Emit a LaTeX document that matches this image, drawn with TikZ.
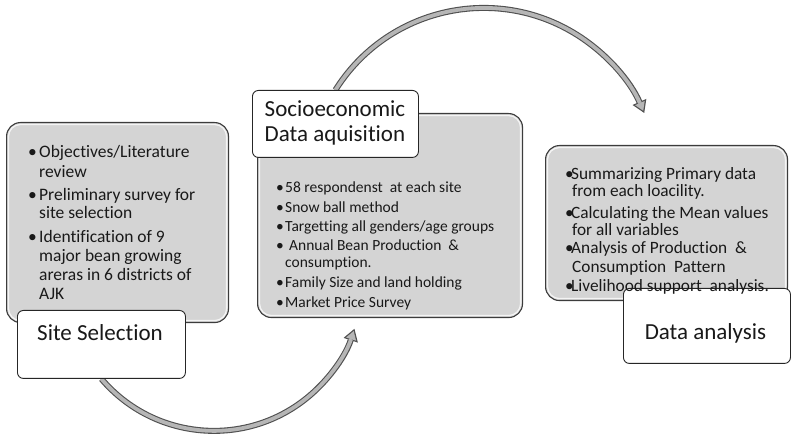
\documentclass[tikz,border=0pt]{standalone}
\usepackage{fontspec}
\setmainfont[Ligatures=CommonOff]{Carlito}
\usetikzlibrary{arrows.meta,backgrounds}
\definecolor{boxgray}{RGB}{212,212,212}
\definecolor{boxedge}{RGB}{60,60,60}
\definecolor{arrowfill}{RGB}{182,182,182}
\definecolor{arrowedge}{RGB}{80,80,80}
\newcommand{\mybul}[1]{\makebox[#1pt][l]{•}}
\newcommand{\myind}[1]{\hspace*{#1pt}}
\begin{document}
\begin{tikzpicture}[x=1pt,y=-1pt,
  graybox/.style={draw=boxedge, line width=1.1pt, fill=boxgray, rounded corners=14pt,
    inner sep=0pt, anchor=north west},
  titlebox/.style={draw=black!85, line width=0.9pt, fill=white, rounded corners=6pt,
    inner sep=0pt, anchor=north west},
  bevel/.style={draw=white, opacity=0.75, line width=1.3pt, rounded corners=12pt},
  titletext/.style={inner sep=0pt, font=\fontsize{23}{25}\selectfont, text=black!90},
  listtext/.style={inner sep=0pt, anchor=north west, align=left, text=black!90},
  arrowout/.style={line width=6pt, draw=arrowedge,
    -{Triangle[length=12pt,width=15pt,line width=0pt]}},
  arrowin/.style={line width=3.8pt, draw=arrowfill, shorten >=2.4pt,
    -{Triangle[length=8.4pt,width=10.5pt,line width=0pt]}}]
\useasboundingbox (0,0) rectangle (796,438);

% gray content boxes
\node[graybox, minimum width=222pt, minimum height=200pt] (g1) at (6,122) {};
\node[graybox, minimum width=265pt, minimum height=204pt] (g2) at (257,113) {};
\node[graybox, minimum width=242pt, minimum height=155pt] (g3) at (545,145) {};
\foreach \b in {g1,g2,g3}
  \draw[bevel] ([shift={(2.5,2.5)}]\b.north west) rectangle ([shift={(-2.5,-2.5)}]\b.south east);

% white title boxes
\node[titlebox, minimum width=168pt, minimum height=68pt] (ss) at (17,310) {};
\node[titlebox, minimum width=166pt, minimum height=67pt] (sd) at (252,90) {};
\node[titlebox, minimum width=167pt, minimum height=75pt] (da) at (623,288) {};

% titles
\node[titletext] (tss) at (100,333) {Site Selection};
\node[titletext, align=left] (tsd) at (335,122.5) {Socioeconomic\\Data aquisition};
\node[titletext] (tda) at (705.5,333) {Data analysis};

% lists
\node[listtext, font=\fontsize{17.5}{19}\selectfont] (t1) at (28,145) {%
\mybul{11}Objectives/Literature\\[1pt]
\myind{11}review\\[4pt]
\mybul{11}Preliminary survey for\\[-1pt]
\myind{11}site selection\\[5pt]
\mybul{11}Identification of 9\\
\myind{11}major bean growing\\
\myind{11}areras in 6 districts of\\
\myind{11}AJK};

\node[listtext, font=\fontsize{15.5}{19.5}\selectfont] (t2) at (276,182) {%
\mybul{9}58 respondenst~ at each site\\[0.5pt]
\mybul{9}Snow ball method\\[-0.5pt]
\mybul{9}Targetting all genders/age groups\\[-0.5pt]
\mybul{9}\hspace{4pt}Annual Bean Production~ \&\\[-2.5pt]
\myind{9}consumption.\\[0.5pt]
\mybul{9}Family Size and land holding\\[0.5pt]
\mybul{9}Market Price Survey};

\node[listtext, font=\fontsize{17.3}{18}\selectfont] (t3) at (565,167) {%
\mybul{6}Summarizing Primary data\\[-1pt]
\myind{7}from each loacility.\\[4pt]
\mybul{6}Calculating the Mean values\\[-1pt]
\myind{7}for all variables\\[0pt]
\mybul{6}Analysis of Production~ \&\\[1pt]
\myind{7}Consumption~ Pattern\\[1pt]
\mybul{6}Livelihood support~ analysis.};

% curved connectors (behind the boxes)
\begin{pgfonlayer}{background}
\draw[arrowout] (ss.south) arc[start angle=139.6, end angle=18, radius=147.7];
\draw[arrowin] (ss.south) arc[start angle=139.6, end angle=18, radius=147.7];
\draw[arrowout] (sd.north) arc[start angle=-147.9, end angle=-23.6, radius=175.1];
\draw[arrowin] (sd.north) arc[start angle=-147.9, end angle=-23.6, radius=175.1];
\end{pgfonlayer}
\end{tikzpicture}
\end{document}
